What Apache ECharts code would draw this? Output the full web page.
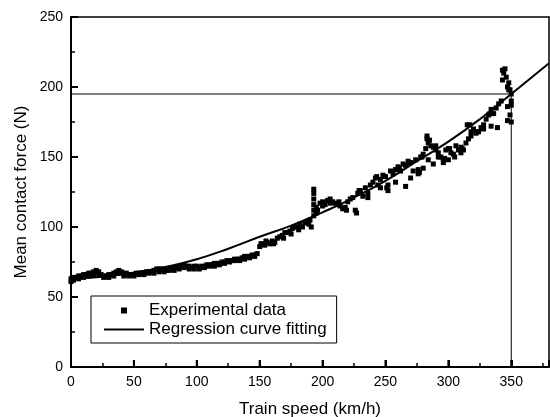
<!DOCTYPE html>
<html>
<head>
<meta charset="utf-8">
<script src="https://cdn.jsdelivr.net/npm/echarts@6/dist/echarts.min.js"></script>
<style>
  html, body { margin: 0; padding: 0; background: #fff; }
  #chart { width: 550px; height: 417px; }
</style>
</head>
<body>
<div id="chart"></div>
<script>
var expData = [
  [0,63],[0,61],[2,64],[2,62],[4,64],[6,65],[6,63],[8,65],[10,66],[10,64],[12,66],[14,67],[14,65],
  [16,67],[18,68],[18,66],[20,69],[22,68],[22,66],[24,66],[26,65],[26,64],[28,65],[30,66],[30,64],
  [32,66],[34,67],[34,65],[36,68],[38,69],[38,67],[40,68],[42,67],[42,65],[44,67],[46,66],[46,65],
  [48,66],[50,66],[50,65],[52,67],[54,67],[54,66],[56,67],[58,67],[58,66],[60,68],[62,68],[62,67],
  [64,68],[66,69],[66,67],[68,70],[70,70],[70,68],[72,70],[74,69],[74,68],[76,69],[78,70],[78,69],
  [80,70],[82,71],[82,69],[84,71],[86,71],[86,70],[88,72],[90,73],[90,71],[92,72],[94,72],[94,70],
  [96,71],[98,72],[98,70],[100,72],[102,71],[102,70],[104,72],[106,72],[106,71],[108,73],[110,73],
  [110,72],[112,73],[114,74],[114,72],[116,74],[118,74],[118,73],[120,75],[122,75],[122,74],[124,76],
  [126,76],[126,75],[128,76],[130,77],[130,76],[132,77],[134,77],[134,76],[136,78],[138,79],[138,77],
  [140,79],[142,79],[142,78],[144,80],[146,80],[146,79],[148,81],
  [150,86],[151,88],[152,88],[154,87],[155,90],[156,89],[158,88],[160,90],[161,88],[162,89],[164,92],
  [166,93],[168,94],[169,92],[170,96],[172,96],[174,97],[175,95],[176,99],[178,100],[180,100],[181,98],
  [182,102],[184,100],[186,103],[188,104],[189,102],[190,105],[191,100],
  [193,108],[193,112],[193,116],[193,120],[193,124],[193,127],[195,110],[195,114],
  [196,112],[198,117],[200,118],[200,115],[202,116],[204,119],[206,120],[206,117],[208,118],[210,117],
  [212,116],[213,118],[214,115],[216,113],[218,114],[219,112],[220,118],[222,120],[224,121],[226,112],
  [227,110],[228,124],[229,126],[230,126],[232,122],[234,128],[236,124],[236,121],[238,130],[240,132],
  [242,135],[243,136],[244,130],[246,134],[246,128],[248,137],[250,136],[251,128],[252,130],[252,126],
  [254,140],[256,138],[258,141],[258,132],[259,141],[260,143],[261,142],[262,140],[264,145],[266,144],
  [266,129],[268,147],[269,146],[270,146],[270,135],[272,140],[274,148],[276,141],[276,138],[277,139],
  [278,150],[279,150],[280,152],[280,142],[282,156],[283,163],[283,165],[284,160],[284,148],[285,162],
  [286,158],[288,157],[288,145],[290,155],[290,158],[292,153],[292,150],[294,150],[296,148],[296,146],
  [297,149],[298,155],[300,156],[300,148],[301,156],[302,153],[304,152],[305,150],[306,158],[308,155],
  [310,157],[310,153],[311,156],[312,155],[314,160],[315,173],[316,163],[317,173],[318,168],[318,165],
  [320,170],[322,167],[322,168],[324,168],[326,171],[327,171],[328,173],[328,170],[330,177],[332,180],
  [333,181],[334,184],[334,172],[336,181],[338,185],[339,171],[340,188],[342,190],
  [343,205],[343,212],[344,210],[345,213],[346,207],[347,200],[347,186],[347,176],[348,203],[348,198],
  [349,198],[349,180],[350,195],[350,190],[350,187],[350,175]
];
// regression curve samples
var fitX = [0, 25, 50, 75, 100, 125, 150, 175, 200, 225, 250, 275, 300, 325, 350, 380];
var fitY = [63, 64.5, 67.5, 71.5, 77, 84.5, 93, 101, 110.5, 121, 133, 147, 161, 177, 195, 217];
// guide lines
var guideSpeed = 350;
var guideForce = 195;
// major tick values
var xTicks = [0, 50, 100, 150, 200, 250, 300, 350];
var yTicks = [0, 50, 100, 150, 200, 250];

var fitData = fitX.map(function (x, i) { return [x, fitY[i]]; });
var guideData = [[0, guideForce], [guideSpeed, guideForce], [guideSpeed, 0]];

var FONT = '"Liberation Sans", Arial, sans-serif';
var TICK_LEN = 7;

// plain frame axis for top / right edges
function frameAxis(pos, min, max) {
  return {
    type: 'value', position: pos, min: min, max: max,
    axisLine: { show: true, onZero: false, lineStyle: { color: '#000', width: 1.5 } },
    axisTick: { show: false }, axisLabel: { show: false }, splitLine: { show: false }
  };
}

// major ticks drawn through the axis scales (the built-in ones did not render)
function tickSeries(data, vertical) {
  return {
    name: vertical ? 'xticks' : 'yticks',
    type: 'custom',
    silent: true,
    clip: false,
    z: 5,
    data: data,
    renderItem: function (params, api) {
      var p = api.coord([api.value(0), api.value(1)]);
      var end = vertical ? [p[0], p[1] - TICK_LEN] : [p[0] + TICK_LEN, p[1]];
      return {
        type: 'line',
        shape: { x1: p[0], y1: p[1], x2: end[0], y2: end[1] },
        style: { stroke: '#000', lineWidth: 2 }
      };
    }
  };
}

var chart = echarts.init(document.getElementById('chart'));
chart.setOption({
  animation: false,
  grid: { left: 71, right: 1, top: 17, bottom: 50 },
  // axis titles
  graphic: [
    {
      type: 'text', x: 310, y: 409,
      style: { text: 'Train speed (km/h)', fontFamily: FONT, fontSize: 17, fill: '#000', align: 'center', verticalAlign: 'middle' }
    },
    {
      type: 'text', x: 21, y: 192, rotation: Math.PI / 2,
      style: { text: 'Mean contact force (N)', fontFamily: FONT, fontSize: 17, fill: '#000', align: 'center', verticalAlign: 'middle' }
    }
  ],
  legend: {
    orient: 'vertical',
    left: 91,
    top: 296,
    padding: [6, 10, 5, 13],
    itemGap: 2,
    itemWidth: 40,
    itemHeight: 6,
    symbolKeepAspect: true,
    borderColor: '#000',
    borderWidth: 1,
    textStyle: { fontFamily: FONT, fontSize: 17, color: '#000' },
    data: [
      { name: 'Experimental data', icon: 'path://M0,0h10v10h-10z' },
      { name: 'Regression curve fitting', icon: 'path://M0,0h40v2h-40z' }
    ]
  },
  xAxis: [
    {
      type: 'value',
      min: 0, max: 380, interval: 50,
      axisLine: { show: true, lineStyle: { color: '#000', width: 2 } },
      axisTick: { show: true, inside: true, length: TICK_LEN, lineStyle: { color: '#000', width: 2 } },
      minorTick: { show: true, splitNumber: 2, length: 4, lineStyle: { color: '#000', width: 1.5 } },
      axisLabel: { fontFamily: FONT, fontSize: 14, color: '#000', margin: 8, showMaxLabel: false },
      splitLine: { show: false }
    },
    frameAxis('top', 0, 380)
  ],
  yAxis: [
    {
      type: 'value',
      min: 0, max: 250, interval: 50,
      axisLine: { show: true, lineStyle: { color: '#000', width: 2 } },
      axisTick: { show: true, inside: true, length: TICK_LEN, lineStyle: { color: '#000', width: 2 } },
      minorTick: { show: true, splitNumber: 2, length: 4, lineStyle: { color: '#000', width: 1.5 } },
      axisLabel: { fontFamily: FONT, fontSize: 14, color: '#000', margin: 8 },
      splitLine: { show: false }
    },
    frameAxis('right', 0, 250)
  ],
  series: [
    {
      name: 'Experimental data',
      type: 'scatter',
      symbol: 'rect',
      symbolSize: 5,
      itemStyle: { color: '#000', opacity: 1 },
      data: expData,
      z: 2
    },
    {
      name: 'Regression curve fitting',
      type: 'line',
      smooth: true,
      showSymbol: false,
      symbol: 'none',
      lineStyle: { color: '#000', width: 2 },
      itemStyle: { color: '#000' },
      data: fitData,
      z: 3
    },
    {
      name: 'guide',
      type: 'line',
      showSymbol: false,
      symbol: 'none',
      lineStyle: { color: '#000', width: 1 },
      data: guideData,
      z: 1
    },
    tickSeries(xTicks.map(function (v) { return [v, 0]; }), true),
    tickSeries(yTicks.map(function (v) { return [0, v]; }), false)
  ]
});
</script>
</body>
</html>
